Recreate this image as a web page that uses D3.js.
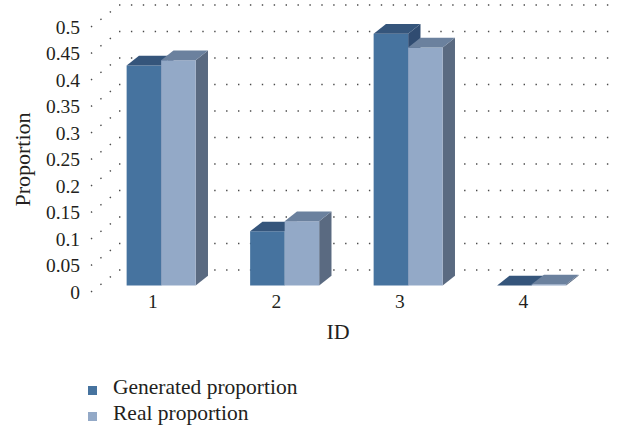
<!DOCTYPE html>
<html>
<head>
<meta charset="utf-8">
<script src="https://cdn.jsdelivr.net/npm/d3@7"></script>
<style>
  html, body { margin: 0; padding: 0; background: #fff; }
  svg { display: block; }
  text { font-family: "Liberation Serif", "Times New Roman", serif; fill: #231f20; }
</style>
</head>
<body>
<svg id="chart" width="622" height="426"></svg>
<script>
// Category IDs and the two series per ID
const categories = ["1", "2", "3", "4"];
const seriesNames = ["Generated proportion", "Real proportion"];
const generated = [0.415, 0.102, 0.475, 0.0];
const real = [0.425, 0.121, 0.449, 0.002];
const yTicks = [0, 0.05, 0.1, 0.15, 0.2, 0.25, 0.3, 0.35, 0.4, 0.45, 0.5];

// Face colours: front, top, side for each series
const palette = [
  { front: "#46739f", top: "#35557b", side: "#304c71" },
  { front: "#93a9c7", top: "#6b819e", side: "#5a6a81" }
];

const svg = d3.select("#chart");

// Front plane of the 3D box and the depth offset to its back wall
const frontLeft = 91, frontRight = 585;
const DX = 28, DY = 22;
const zFront = 0.3, zBack = 0.74;   // bars occupy the middle of the depth

const y = d3.scaleLinear().domain([0, 0.5]).range([292, 27]);
const x = d3.scaleBand().domain(categories)
  .range([frontLeft, frontRight])
  .paddingInner(0.441).paddingOuter(0.2205);
const xs = d3.scaleBand().domain(seriesNames).range([0, x.bandwidth()]);

const proj = (px, v, z) => [px + z * DX, y(v) - z * DY];

// Dotted gridlines: back wall horizontals and left wall diagonals
const grid = svg.append("g")
  .attr("fill", "none")
  .attr("stroke", "#4a4a4a")
  .attr("stroke-width", 1.4)
  .attr("stroke-dasharray", "1.4,10.5");

grid.selectAll("line.back").data(yTicks).join("line")
  .attr("class", "back")
  .attr("x1", d => proj(frontLeft, d, 1)[0])
  .attr("y1", d => proj(frontLeft, d, 1)[1])
  .attr("x2", d => proj(frontRight + 0.5, d, 1)[0])
  .attr("y2", d => proj(frontRight, d, 1)[1]);

grid.selectAll("line.side").data(yTicks).join("line")
  .attr("class", "side")
  .attr("x1", d => proj(frontLeft, d, 0)[0])
  .attr("y1", d => proj(frontLeft, d, 0)[1])
  .attr("x2", d => proj(frontLeft, d, 1)[0] - 1)
  .attr("y2", d => proj(frontLeft, d, 1)[1] + 1);

// 3D columns
const bars = [];
categories.forEach((c, i) => {
  [generated, real].forEach((vals, s) => {
    bars.push({ cat: c, s, v: vals[i] });
  });
});

const poly = pts => "M" + pts.map(p => p.join(",")).join("L") + "Z";

const barG = svg.append("g");
bars.forEach(b => {
  const x0 = x(b.cat) + xs(seriesNames[b.s]);
  const x1 = x0 + xs.bandwidth();
  const col = palette[b.s];
  const g = barG.append("g");
  // side face
  g.append("path")
    .attr("d", poly([proj(x1, 0, zFront), proj(x1, b.v, zFront), proj(x1, b.v, zBack), proj(x1, 0, zBack)]))
    .attr("fill", col.side);
  // front face
  g.append("path")
    .attr("d", poly([proj(x0, 0, zFront), proj(x0, b.v, zFront), proj(x1, b.v, zFront), proj(x1, 0, zFront)]))
    .attr("fill", col.front);
  // top face
  g.append("path")
    .attr("d", poly([proj(x0, b.v, zFront), proj(x0, b.v, zBack), proj(x1, b.v, zBack), proj(x1, b.v, zFront)]))
    .attr("fill", col.top);
});

// Axes (labels only)
const yAxis = svg.append("g")
  .attr("transform", `translate(${frontLeft},0)`)
  .call(d3.axisLeft(y).tickValues(yTicks).tickFormat(d3.format("~g")).tickSize(0).tickPadding(11));
yAxis.select(".domain").remove();
yAxis.selectAll("text").style("font-size", "19.5px").attr("fill", "#231f20")
  .style("font-family", "'Liberation Serif', serif");

const xAxis = svg.append("g")
  .attr("transform", `translate(0,${y(0)})`)
  .call(d3.axisBottom(x).tickSize(0).tickPadding(2.5));
xAxis.select(".domain").remove();
xAxis.selectAll("text").style("font-size", "19.5px").attr("fill", "#231f20")
  .style("font-family", "'Liberation Serif', serif");

// Axis titles
svg.append("text")
  .attr("x", (frontLeft + frontRight) / 2)
  .attr("y", 339)
  .attr("text-anchor", "middle")
  .style("font-size", "22px")
  .text("ID");

svg.append("text")
  .attr("transform", `translate(30,${(y(0) + y(0.5)) / 2}) rotate(-90)`)
  .attr("text-anchor", "middle")
  .style("font-size", "22px")
  .text("Proportion");

// Legend
const legend = svg.append("g").attr("transform", "translate(88,386)");
const items = legend.selectAll("g").data(seriesNames).join("g")
  .attr("transform", (d, i) => `translate(0,${i * 26})`);
items.append("rect")
  .attr("width", 9).attr("height", 9)
  .attr("fill", (d, i) => palette[i].front);
items.append("text")
  .attr("x", 25).attr("y", 7.5)
  .style("font-size", "21.5px")
  .text(d => d);
</script>
</body>
</html>
